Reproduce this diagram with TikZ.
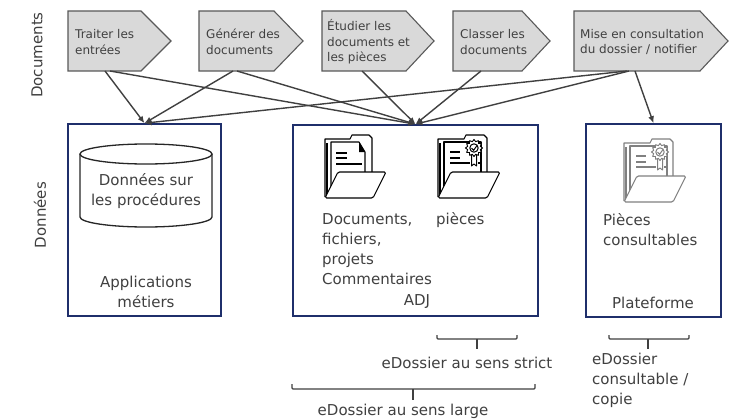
\documentclass[tikz,border=0pt]{standalone}
\usepackage{fontspec}
\setmainfont{DejaVu Sans}
\usetikzlibrary{shapes.geometric,arrows.meta}
\definecolor{navy}{HTML}{1F2F6B}
\definecolor{txt}{HTML}{404040}
\definecolor{pgfill}{HTML}{D9D9D9}
\definecolor{pgline}{HTML}{595959}
\definecolor{arr}{HTML}{404040}
\definecolor{icongray}{HTML}{808080}
\tikzset{
  pent/.style={draw=pgline, fill=pgfill, line width=1.1pt, line join=miter},
  ptxt/.style={anchor=west, align=left, inner sep=0pt, text=txt, font=\fontsize{12}{15.5}\selectfont},
  btxt/.style={inner sep=0pt, text=txt, font=\fontsize{15}{20}\selectfont},
  bbox/.style={draw=navy, line width=1.6pt, inner sep=0pt},
  conn/.style={draw=arr, line width=1.4pt, -{Latex[length=7pt,width=6pt]}},
  brk/.style={draw=arr, line width=1.1pt, rounded corners=1pt},
  cyl/.style={draw=black!85, line width=1.3pt},
  docfolder/.pic={
    \draw[line width=1.1pt, fill=white, line join=round] (1,62) -- (1,4) -- (26,4) -- (28,0) -- (45,0) -- (48,3) -- (48,38);
    \draw[line width=1.1pt, fill=white, line join=round] (7,60) -- (7,7) -- (35,7) -- (41,17) -- (41,40);
    \fill (35,7) -- (41,17) -- (35,17) -- cycle;
    \draw[line width=1.6pt] (12,18) -- (23,18) (12,23) -- (23,23) (12,29) -- (38,29);
    \draw[line width=2.4pt] (3,8) -- (3,62);
    \draw[line width=1.1pt, fill=white, rounded corners=1.5pt, line join=round] (1,63) -- (14,37) -- (62,37) -- (49,63) -- cycle;
  },
  certfolder/.pic={
    \draw[line width=1.1pt, fill=white, line join=round] (1,62) -- (1,4) -- (27,4) -- (29,0) -- (47,0) -- (50,3) -- (50,38);
    \draw[line width=1.1pt, fill=white, line join=round] (7,60) -- (7,7) -- (44,7) -- (44,40);
    \draw[line width=1.6pt] (13,17) -- (23,17) (13,23) -- (23,23) (13,28) -- (33,28) (41,28) -- (44,28);
    \draw[line width=1pt, fill=white, line join=round] (34.5,18) -- (34.5,31) -- (37,29) -- (39.5,31) -- (39.5,18);
    \node[star, star points=12, star point ratio=1.3, draw, line width=0.9pt, fill=white, minimum size=17pt, inner sep=0pt] (-ros) at (37,13) {};
    \draw[line width=1pt] (37,13) circle[radius=4.2];
    \draw[line width=1pt] (34.5,13) -- (36.6,15.3) -- (40,10.5);
    \draw[line width=2.4pt] (3,8) -- (3,62);
    \draw[line width=1.1pt, fill=white, rounded corners=1.5pt, line join=round] (1,63) -- (14,37) -- (63,37) -- (50,63) -- cycle;
  }
}
\begin{document}
\begin{tikzpicture}[x=1pt,y=-1pt]
\useasboundingbox[fill=white] (0,0) rectangle (734,420);

% side labels
\node[btxt, rotate=90] (docs) at (37,55) {Documents};
\node[btxt, rotate=90] (dons) at (40,215) {Données};

% boxes
\node[bbox, minimum width=153pt, minimum height=192pt] (b1) at (144.5,220) {};
\node[bbox, minimum width=245pt, minimum height=191pt] (b2) at (415.5,220.5) {};
\node[bbox, minimum width=135pt, minimum height=193pt] (b3) at (653.5,220.5) {};

% pentagons
\draw[pent] (68,11) -- (141,11) -- (171,41) -- (141,71) -- (68,71) -- cycle;
\draw[pent] (199,11) -- (274,11) -- (303,41) -- (274,71) -- (199,71) -- cycle;
\draw[pent] (322,11) -- (406,11) -- (434,41) -- (406,71) -- (322,71) -- cycle;
\draw[pent] (453,11) -- (522,11) -- (550,41) -- (522,71) -- (453,71) -- cycle;
\draw[pent] (574,11) -- (700,11) -- (728,41) -- (700,71) -- (574,71) -- cycle;

\node[ptxt] (t1) at (75,42) {Traiter les\\entrées};
\node[ptxt] (t2) at (206,42) {Générer des\\documents};
\node[ptxt] (t3) at (327,42) {Étudier les\\documents et\\les pièces};
\node[ptxt] (t4) at (460,42) {Classer les\\documents};
\node[ptxt] (t5) at (580,42) {Mise en consultation\\du dossier / notifier};

% connector start points
\coordinate (p1a) at (105,71);
\coordinate (p1b) at (110,71);
\coordinate (p2a) at (233,71);
\coordinate (p2b) at (237,71);
\coordinate (p3a) at (362,71);
\coordinate (p4a) at (481,71);
\coordinate (p5a) at (627,71);
\coordinate (p5b) at (629,71);
\coordinate (p5c) at (635,71);

\draw[conn] (p1a) -- (b1.north);
\draw[conn] (p2a) -- (b1.north);
\draw[conn] (p5a) -- (b1.north);
\draw[conn] (p1b) -- (b2.north);
\draw[conn] (p2b) -- (b2.north);
\draw[conn] (p3a) -- (b2.north);
\draw[conn] (p4a) -- (b2.north);
\draw[conn] (p5b) -- (b2.north);
\draw[conn] (p5c) -- (b3.north);

% box 1 content
\draw[cyl] (80,154) -- (80,217) arc[start angle=180, end angle=0, x radius=66, y radius=10] -- (212,154);
\draw[cyl] (146,154) ellipse[x radius=66, y radius=10];
\node[btxt, align=center] (proc) at (146,191) {Données sur\\les procédures};
\node[btxt, align=center] (apps) at (146,292) {Applications\\métiers};

% box 2 content
\pic[color=black] (f1) at (324,135) {docfolder};
\pic[color=black] (f2) at (437,135) {certfolder};
\node[btxt, anchor=west, align=left] (docs2) at (322,249.5) {Documents,\\fichiers,\\projets\\Commentaires};
\node[btxt, anchor=west] (pieces) at (436,220) {pièces};
\node[btxt] (adj) at (417,302) {ADJ};

% box 3 content
\pic[color=icongray] (f3) at (623,139) {certfolder};
\node[btxt, anchor=west, align=left] (pc) at (603,230) {Pièces\\consultables};
\node[btxt] (plat) at (653,303) {Plateforme};

% brackets
\draw[brk] (437,335) -- (437,339) -- (517,339) -- (517,335);
\draw[brk] (477,339) -- (477,349);
\draw[brk] (292,384) -- (292,389) -- (535,389) -- (535,384);
\draw[brk] (413,389) -- (413,400);
\draw[brk] (609,335) -- (609,339) -- (689,339) -- (689,335);
\draw[brk] (648,339) -- (648,349);

\node[btxt] (l1) at (467,363) {eDossier au sens strict};
\node[btxt] (l2) at (403,411) {eDossier au sens large};
\node[btxt, anchor=west, align=left] (l3) at (592,380) {eDossier\\consultable /\\copie};
\end{tikzpicture}
\end{document}
